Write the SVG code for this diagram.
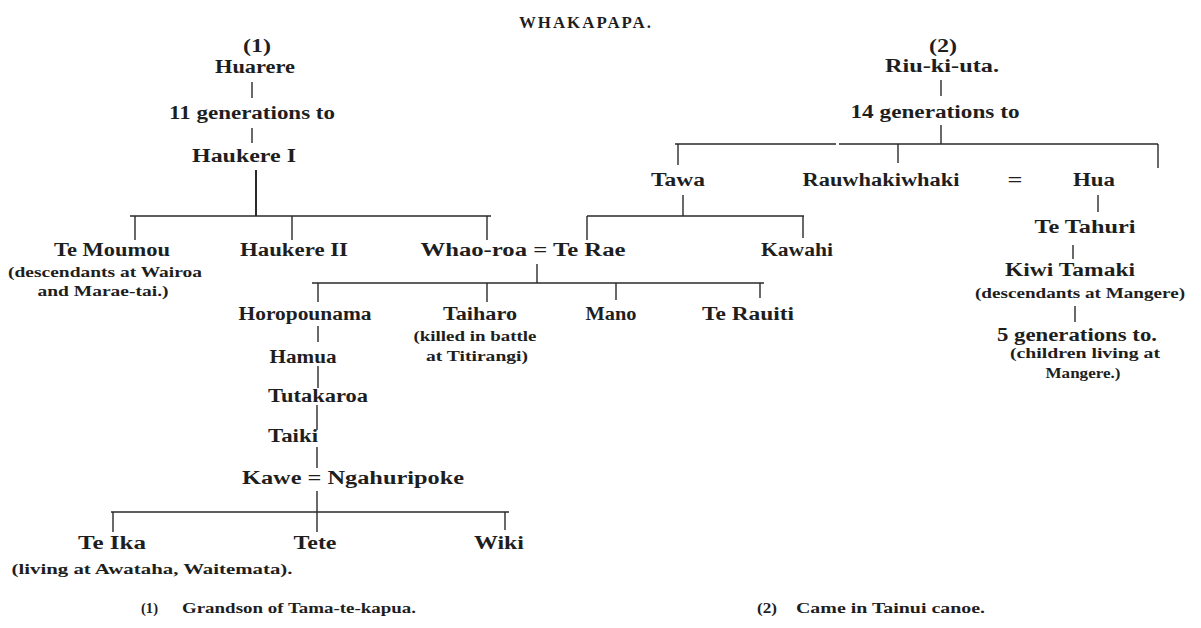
<svg xmlns="http://www.w3.org/2000/svg" width="1201" height="628" viewBox="0 0 1201 628">
<style>
.n{font-family:"Liberation Serif","Times New Roman",serif;font-weight:bold;font-size:18px;fill:#1e1e1e;text-anchor:middle}
.s{font-size:15px}
.f{font-size:14px;text-anchor:start}
.ttl{font-size:17px;letter-spacing:2px}
.c{stroke:#2a2a2a;stroke-width:1.4;fill:none}
.k{stroke:#2a2a2a;stroke-width:2;fill:none}
</style>
<rect width="1201" height="628" fill="#ffffff"/>
<g id="title"><text class="n ttl" x="586" y="28" textLength="134" lengthAdjust="spacingAndGlyphs">WHAKAPAPA.</text></g>

<g id="connectors">
<line class="c" x1="252" y1="82" x2="252" y2="98"/>
<line class="c" x1="252" y1="128" x2="252" y2="143"/>
<line class="k" x1="256" y1="170" x2="256" y2="216"/>
<line class="c" x1="130" y1="216" x2="491" y2="216"/>
<line class="c" x1="135" y1="216" x2="135" y2="240"/>
<line class="c" x1="292" y1="216" x2="292" y2="240"/>
<line class="c" x1="487" y1="216" x2="487" y2="240"/>
<line class="c" x1="537" y1="264" x2="537" y2="283"/>
<line class="c" x1="312" y1="283" x2="764" y2="283"/>
<line class="c" x1="318" y1="283" x2="318" y2="302"/>
<line class="c" x1="487" y1="283" x2="487" y2="302"/>
<line class="c" x1="616" y1="283" x2="616" y2="300"/>
<line class="c" x1="760" y1="283" x2="760" y2="298"/>
<line class="c" x1="318" y1="326" x2="318" y2="342"/>
<line class="c" x1="318" y1="366" x2="318" y2="388"/>
<line class="c" x1="317" y1="405" x2="317" y2="430"/>
<line class="c" x1="317" y1="447" x2="317" y2="468"/>
<line class="c" x1="317" y1="491" x2="317" y2="512"/>
<line class="c" x1="111" y1="512" x2="509" y2="512"/>
<line class="c" x1="113" y1="512" x2="113" y2="532"/>
<line class="c" x1="317" y1="512" x2="317" y2="532"/>
<line class="c" x1="505" y1="512" x2="505" y2="530"/>
<line class="c" x1="941" y1="80" x2="941" y2="96"/>
<line class="c" x1="941" y1="125" x2="941" y2="144"/>
<line class="c" x1="675" y1="144" x2="836" y2="144"/>
<line class="c" x1="839" y1="144" x2="1158" y2="144"/>
<line class="c" x1="678" y1="144" x2="678" y2="165"/>
<line class="c" x1="898" y1="144" x2="898" y2="163"/>
<line class="c" x1="1158" y1="144" x2="1158" y2="168"/>
<line class="c" x1="683" y1="195" x2="683" y2="216"/>
<line class="c" x1="587" y1="216" x2="804" y2="216"/>
<line class="c" x1="587" y1="216" x2="587" y2="240"/>
<line class="c" x1="803" y1="216" x2="803" y2="238"/>
<line class="c" x1="1098" y1="195" x2="1098" y2="212"/>
<line class="c" x1="1073" y1="245" x2="1073" y2="259"/>
<line class="c" x1="1075" y1="306" x2="1075" y2="322"/>
<text class="n" x="1015" y="186" font-size="15" textLength="15" lengthAdjust="spacingAndGlyphs">=</text>
</g>

<g id="n-huarere">
<text class="n" x="257" y="52" textLength="28" lengthAdjust="spacingAndGlyphs">(1)</text>
<text class="n" x="255" y="73" textLength="80" lengthAdjust="spacingAndGlyphs">Huarere</text>
</g>
<g id="n-11gen"><text class="n" x="252" y="119" textLength="166" lengthAdjust="spacingAndGlyphs">11 generations to</text></g>
<g id="n-haukere1"><text class="n" x="244" y="162" textLength="104" lengthAdjust="spacingAndGlyphs">Haukere I</text></g>
<g id="n-temoumou">
<text class="n" x="112" y="256" textLength="116" lengthAdjust="spacingAndGlyphs">Te Moumou</text>
<text class="n s" x="105" y="277" textLength="194" lengthAdjust="spacingAndGlyphs">(descendants at Wairoa</text>
<text class="n s" x="103" y="296" textLength="131" lengthAdjust="spacingAndGlyphs">and Marae-tai.)</text>
</g>
<g id="n-haukere2"><text class="n" x="294" y="256" textLength="108" lengthAdjust="spacingAndGlyphs">Haukere II</text></g>
<g id="n-whaoroa"><text class="n" x="523" y="256" textLength="205" lengthAdjust="spacingAndGlyphs">Whao-roa = Te Rae</text></g>
<g id="n-horopounama"><text class="n" x="305" y="320" textLength="133" lengthAdjust="spacingAndGlyphs">Horopounama</text></g>
<g id="n-taiharo">
<text class="n" x="480" y="320" textLength="74" lengthAdjust="spacingAndGlyphs">Taiharo</text>
<text class="n s" x="475" y="341" textLength="123" lengthAdjust="spacingAndGlyphs">(killed in battle</text>
<text class="n s" x="477" y="361" textLength="102" lengthAdjust="spacingAndGlyphs">at Titirangi)</text>
</g>
<g id="n-mano"><text class="n" x="611" y="320" textLength="51" lengthAdjust="spacingAndGlyphs">Mano</text></g>
<g id="n-terauiti"><text class="n" x="748" y="320" textLength="92" lengthAdjust="spacingAndGlyphs">Te Rauiti</text></g>
<g id="n-hamua"><text class="n" x="303" y="363" textLength="67" lengthAdjust="spacingAndGlyphs">Hamua</text></g>
<g id="n-tutakaroa"><text class="n" x="318" y="402" textLength="100" lengthAdjust="spacingAndGlyphs">Tutakaroa</text></g>
<g id="n-taiki"><text class="n" x="293" y="442" textLength="50" lengthAdjust="spacingAndGlyphs">Taiki</text></g>
<g id="n-kawe"><text class="n" x="353" y="484" textLength="222" lengthAdjust="spacingAndGlyphs">Kawe = Ngahuripoke</text></g>
<g id="n-teika">
<text class="n" x="112" y="549" textLength="68" lengthAdjust="spacingAndGlyphs">Te Ika</text>
<text class="n s" x="152" y="574" textLength="281" lengthAdjust="spacingAndGlyphs">(living at Awataha, Waitemata).</text>
</g>
<g id="n-tete"><text class="n" x="315" y="549" textLength="43" lengthAdjust="spacingAndGlyphs">Tete</text></g>
<g id="n-wiki"><text class="n" x="499" y="549" textLength="50" lengthAdjust="spacingAndGlyphs">Wiki</text></g>

<g id="n-riukiuta">
<text class="n" x="943" y="52" textLength="28" lengthAdjust="spacingAndGlyphs">(2)</text>
<text class="n" x="942" y="72" textLength="114" lengthAdjust="spacingAndGlyphs">Riu-ki-uta.</text>
</g>
<g id="n-14gen"><text class="n" x="935" y="118" textLength="169" lengthAdjust="spacingAndGlyphs">14 generations to</text></g>
<g id="n-tawa"><text class="n" x="678" y="186" textLength="54" lengthAdjust="spacingAndGlyphs">Tawa</text></g>
<g id="n-rauwhakiwhaki"><text class="n" x="881" y="186" textLength="157" lengthAdjust="spacingAndGlyphs">Rauwhakiwhaki</text></g>
<g id="n-hua"><text class="n" x="1094" y="186" textLength="42" lengthAdjust="spacingAndGlyphs">Hua</text></g>
<g id="n-kawahi"><text class="n" x="797" y="256" textLength="72" lengthAdjust="spacingAndGlyphs">Kawahi</text></g>
<g id="n-tetahuri"><text class="n" x="1085" y="233" textLength="101" lengthAdjust="spacingAndGlyphs">Te Tahuri</text></g>
<g id="n-kiwitamaki">
<text class="n" x="1070" y="276" textLength="130" lengthAdjust="spacingAndGlyphs">Kiwi Tamaki</text>
<text class="n s" x="1080" y="298" textLength="210" lengthAdjust="spacingAndGlyphs">(descendants at Mangere)</text>
</g>
<g id="n-5gen">
<text class="n" x="1077" y="341" textLength="160" lengthAdjust="spacingAndGlyphs">5 generations to.</text>
<text class="n s" x="1085" y="358" textLength="150" lengthAdjust="spacingAndGlyphs">(children living at</text>
<text class="n s" x="1083" y="378" textLength="75" lengthAdjust="spacingAndGlyphs">Mangere.)</text>
</g>

<g id="footnotes">
<text class="n f" x="141" y="613" textLength="17" lengthAdjust="spacingAndGlyphs">(1)</text>
<text class="n f" x="182" y="613" textLength="234" lengthAdjust="spacingAndGlyphs">Grandson of Tama-te-kapua.</text>
<text class="n f" x="757" y="613" textLength="20" lengthAdjust="spacingAndGlyphs">(2)</text>
<text class="n f" x="796" y="613" textLength="189" lengthAdjust="spacingAndGlyphs">Came in Tainui canoe.</text>
</g>
</svg>
